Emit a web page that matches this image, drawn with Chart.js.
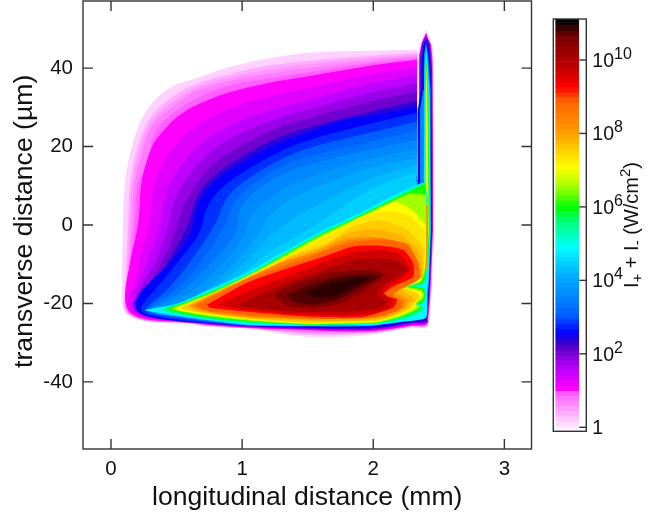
<!DOCTYPE html>
<html>
<head>
<meta charset="utf-8">
<script src="https://cdn.jsdelivr.net/npm/chart.js@4"></script>
<style>
  html, body { margin: 0; background: #fff; }
  canvas { position: absolute; top: 0; }
  #map { left: 0; }
  #bar { left: 540px; }
</style>
</head>
<body>
<canvas id="map" width="540" height="514"></canvas>
<canvas id="bar" width="125" height="514"></canvas>
<script>
// axes
const xRange = [-0.2136, 3.207];
const yRange = [-57.1, 57.1];
const xTicks = [0, 1, 2, 3];
const yTicks = [-40, -20, 0, 20, 40];
const barRange = [-0.109, 11.116];
const barTicks = [0, 2, 4, 6, 8, 10];

// colour bar band edges, log10(I)
const barEdges = [-0.109, 0.03, 0.17, 0.31, 0.45, 0.59, 0.73, 0.87, 1.0, 1.14, 1.28, 1.42, 1.56, 1.7, 1.84, 1.98, 2.12, 2.26, 2.4, 2.54, 2.68, 2.82, 2.96, 3.1, 3.24, 3.38, 3.52, 3.66, 3.8, 3.94, 4.08, 4.22, 4.36, 4.5, 4.64, 4.78, 4.92, 5.06, 5.2, 5.34, 5.48, 5.62, 5.76, 5.9, 6.04, 6.18, 6.32, 6.46, 6.6, 6.74, 6.88, 7.02, 7.16, 7.3, 7.44, 7.58, 7.72, 7.86, 8.0, 8.14, 8.28, 8.42, 8.56, 8.7, 8.84, 8.98, 9.12, 9.26, 9.4, 9.54, 9.68, 9.82, 9.96, 10.1, 10.24, 10.38, 10.52, 10.66, 10.8, 10.94, 11.02, 11.116];

// level -> colour ramp
const rampLevels = [-0.109, 0.96, 1.0, 1.5, 2.0, 2.2, 2.5, 3.0, 3.5, 4.0, 4.5, 4.83, 5.5, 5.93, 6.4, 7.0, 7.5, 8.0, 8.8, 9.2, 9.6, 10.0, 10.5, 10.7, 10.9, 11.0];
const rampColors = ['#fff0ff', '#ff50ff', '#ff00ff', '#c000ff', '#7000d0', '#4000c8', '#0000ff', '#0060ff', '#0088ff', '#00a8ff', '#00d8ff', '#00ffff', '#00ff80', '#00ff00', '#90ff00', '#ffff00', '#ffcc00', '#ff9900', '#ff6600', '#ff0000', '#d00000', '#a80000', '#800000', '#500000', '#200000', '#000000'];

// fan above the wedge: closed contours as x (mm), y (um) pairs
const fan010 = [2.335,44.7, 1.976,44.4, 1.518,43.9, 1.19,42.4, .908,40.3, .656,37.5, .45,35, .275,29.4, .168,21, .107,10.8, .092,.1, .084,-16.5, .084,-20.3, .122,-22.9, .275,-24.6, .58,-25.1, .732,-25.9, 1.06,-26.5, 1.495,-28.5, 1.77,-28.5, 2.029,-27.7, 2.281,-26.2, 2.418,-25.4, 2.418,9, 2.335,10.3];
const fan035 = [2.335,43.9, 1.976,43.1, 1.518,41.9, 1.19,40.6, .908,38.5, .656,36, .473,32.7, .305,27.6, .206,20.2, .145,10.3, .13,.1, .107,-16.5, .099,-19.8, .13,-22.6, .282,-24.5, .58,-25, .732,-25.7, 1.06,-26.4, 1.495,-27.9, 1.77,-27.9, 2.029,-27.4, 2.281,-26, 2.418,-25.3, 2.418,9, 2.335,10.3];
const fan050 = [2.335,43.45, 1.976,42.5, 1.518,41, 1.19,39.5, .908,37.6, .656,35.1, .485,31.7, .312,26.6, .22,19.3, .16,9.9, .145,.1, .115,-16.8, .103,-19.4, .133,-22.55, .282,-24.45, .58,-24.95, .732,-25.6, 1.06,-26.35, 1.495,-27.6, 1.77,-27.65, 2.029,-27.3, 2.281,-25.9, 2.418,-25.2, 2.418,9, 2.335,10.3];
const fan065 = [2.335,43, 1.976,41.9, 1.518,40.1, 1.19,38.5, .908,36.8, .656,34.2, .496,30.7, .32,25.6, .236,18.4, .175,9.5, .16,.1, .122,-17.2, .107,-19, .137,-22.5, .282,-24.4, .58,-24.9, .732,-25.5, 1.06,-26.3, 1.495,-27.3, 1.77,-27.4, 2.029,-27.2, 2.281,-25.8, 2.418,-25.1, 2.418,9, 2.335,10.3];
const fan085 = [2.335,42.5, 1.976,41.2, 1.518,39, 1.19,37.3, .95,36, .72,33.4, .51,29.4, .345,24.2, .27,15.5, .205,10.5, .18,.1, .133,-13, .107,-18.6, .14,-22.4, .282,-24.2, .58,-24.85, .732,-25.45, 1.06,-26.25, 1.495,-27, 1.77,-27.25, 2.029,-27.05, 2.281,-25.75, 2.418,-24.85, 2.418,9, 2.335,10.3];
const fan100 = [2.335,42.1, 1.976,40.6, 1.518,38, 1.289,36.8, 1.037,35, .778,32.4, .526,28.1, .374,23, .313,20, .236,11.5, .206,.1, .145,-9.6, .107,-18.3, .145,-22.3, .282,-24.1, .58,-24.8, .732,-25.4, 1.06,-26.2, 1.495,-26.7, 1.77,-27.1, 2.029,-26.9, 2.281,-25.7, 2.418,-24.6, 2.418,9, 2.335,10.3];
const fan125 = [2.335,40.2, 1.976,38.3, 1.518,35, 1.289,33.4, 1.037,31.2, .778,27.7, .565,23, .42,17, .33,10, .29,.1, .22,-8.6, .18,-15, .133,-19, .165,-22.2, .29,-23.9, .58,-24.7, .732,-25.3, 1.06,-26.1, 1.495,-26.65, 1.77,-27, 2.029,-26.8, 2.281,-25.5, 2.418,-24.5, 2.418,9, 2.335,10.3];
const fan150 = [2.335,38.3, 1.976,36, 1.518,31.9, 1.289,29.9, 1.037,27.3, .778,23, .603,17.9, .465,11.5, .397,5.2, .374,.1, .297,-7.6, .221,-13.9, .16,-19.8, .183,-22.1, .297,-23.6, .58,-24.6, .732,-25.2, 1.06,-26, 1.495,-26.6, 1.77,-26.8, 2.029,-26.7, 2.281,-25.4, 2.418,-24.4, 2.418,9, 2.335,10.3];
const fan175 = [2.335,36.2, 1.976,33.7, 1.518,29.6, 1.289,27.4, 1.037,24.1, .778,19.2, .62,13.8, .507,8, .45,2.6, .44,.1, .355,-8, .26,-14.2, .17,-20, .195,-22.1, .297,-23.5, .58,-24.5, .732,-25.15, 1.06,-25.95, 1.495,-26.5, 1.77,-26.65, 2.029,-26.55, 2.281,-25.2, 2.418,-24.25, 2.418,9, 2.335,10.3];
const fan200 = [2.335,34, 1.976,31.4, 1.518,27.3, 1.289,25, 1.037,21, .778,15.4, .641,9.8, .549,4.4, .511,.1, .412,-8, .297,-14.5, .183,-20, .206,-22.1, .297,-23.4, .58,-24.4, .732,-25.1, 1.06,-25.9, 1.495,-26.4, 1.77,-26.5, 2.029,-26.4, 2.281,-25, 2.418,-24.1, 2.418,9, 2.335,10.3];
const fan230 = [2.335,31.7, 1.976,28.9, 1.518,25, 1.289,22.5, 1.037,18.2, .778,12.3, .656,7.2, .587,.1, .45,-8.4, .313,-15.7, .198,-20.6, .221,-22.3, .313,-23.4, .58,-24.3, .732,-24.9, 1.06,-25.7, 1.495,-26.2, 1.77,-26.4, 2.029,-26.2, 2.281,-24.9, 2.418,-23.6, 2.418,9, 2.335,10.3];
const fan250 = [2.335,30.1, 1.976,27.8, 1.77,26.8, 1.518,23.8, 1.289,21, 1.037,16.6, .778,10.8, .656,4.7, .618,-1.2, .58,-3.7, .45,-9.6, .244,-16.3, .183,-20.8, .244,-22.9, .526,-24.6, .732,-25, 1.06,-25.7, 1.495,-26, 1.77,-26.2, 2.029,-25.9, 2.281,-24.4, 2.418,-22.9, 2.418,9, 2.335,10.3];
const fan275 = [2.335,28.6, 1.976,25.8, 1.518,21.7, 1.289,18.7, 1.037,14.1, .831,9, .725,3.9, .679,-1.7, .526,-8.8, .336,-16.5, .229,-21.1, .282,-22.9, .564,-24.4, .732,-24.9, 1.06,-25.7, 1.495,-25.9, 1.77,-26, 2.029,-25.6, 2.281,-24.1, 2.418,-22.6, 2.418,9, 2.335,10.3];
const fan300 = [2.335,26.3, 1.976,23.5, 1.518,19.7, 1.289,16.6, 1.06,12.1, .892,7.2, .793,.1, .603,-9.4, .412,-17, .267,-21.3, .313,-22.6, .603,-24.1, .732,-24.6, 1.06,-25.6, 1.495,-25.8, 1.77,-25.9, 2.029,-25.5, 2.281,-23.9, 2.418,-22.3, 2.418,9, 2.335,10.3];
const fan325 = [2.335,24, 1.976,21.3, 1.518,17.5, 1.289,14.6, 1.08,10.3, .94,5.5, .87,.1, .68,-9.7, .47,-17.1, .282,-21.45, .33,-22.6, .62,-24, .732,-24.5, 1.06,-25.6, 1.495,-25.75, 1.77,-25.8, 2.029,-25.5, 2.281,-23.75, 2.418,-22.2, 2.418,9, 2.335,10.3];
const fan350 = [2.335,21.7, 1.976,19.2, 1.518,15.4, 1.289,12.6, 1.098,8.5, .984,3.9, .953,-1.7, .755,-10.1, .526,-17.2, .297,-21.6, .351,-22.6, .641,-23.9, .732,-24.4, 1.06,-25.6, 1.495,-25.7, 1.77,-25.7, 2.029,-25.5, 2.281,-23.6, 2.418,-22.1, 2.418,9, 2.335,10.3];
const fan375 = [2.335,19.4, 1.976,16.9, 1.518,12.2, 1.33,9.5, 1.155,5.5, 1.05,1, 1.03,-2, .83,-10.5, .58,-17.8, .305,-21.6, .36,-22.6, .68,-23.85, 1.06,-25.55, 1.495,-25.65, 1.77,-25.65, 2.029,-25.45, 2.281,-23.5, 2.418,-21.85, 2.418,9, 2.335,10.3];
const fan400 = [2.335,17.1, 1.976,14.6, 1.518,9, 1.365,6.4, 1.213,2.6, 1.121,-2.5, .908,-10.9, .641,-18.3, .313,-21.6, .374,-22.6, .717,-23.8, 1.06,-25.5, 1.495,-25.6, 1.77,-25.6, 2.029,-25.4, 2.281,-23.4, 2.418,-21.6, 2.418,9, 2.335,10.3];
const fan420 = [2.335,15.3, 1.976,11.8, 1.56,4.9, 1.4,2, 1.24,-2, 1.12,-6, .95,-11.8, .68,-18.3, .34,-21.6, .39,-22.6, .72,-23.75, 1.06,-25.45, 1.495,-25.55, 1.77,-25.55, 2.029,-25.4, 2.281,-23.25, 2.418,-21.35, 2.418,9, 2.335,10.3];
const fan440 = [2.335,13.6, 1.976,9, 1.594,.8, 1.442,-2.5, 1.213,-6.8, .984,-12.7, .717,-18.3, .374,-21.6, .412,-22.6, .732,-23.7, 1.06,-25.4, 1.495,-25.5, 1.77,-25.5, 2.029,-25.4, 2.281,-23.1, 2.418,-21.1, 2.418,9, 2.335,10.3];
const fanLevels = [0.1, 0.35, 0.5, 0.65, 0.85, 1, 1.25, 1.5, 1.75, 2, 2.3, 2.5, 2.75, 3, 3.25, 3.5, 3.75, 4, 4.2, 4.4];
const fanShapes = [fan010, fan035, fan050, fan065, fan085, fan100, fan125, fan150, fan175, fan200, fan230, fan250, fan275, fan300, fan325, fan350, fan375, fan400, fan420, fan440];

// thin vertical spike at the end of the cell
const spike010 = [2.342,-20, 2.342,37, 2.346,43.4, 2.357,45.9, 2.384,48.2, 2.403,49.8, 2.426,48.2, 2.441,46.7, 2.456,44.7, 2.464,14.9, 2.464,-1.2, 2.449,-13.9, 2.441,-19, 2.426,-24.6];
const spike100 = [2.349,-20, 2.349,37, 2.353,43.4, 2.372,46.7, 2.403,49, 2.422,47.2, 2.441,45.9, 2.452,42.1, 2.456,14.9, 2.456,-1.2, 2.441,-13.9, 2.433,-19, 2.418,-24.6];
const spike200 = [2.353,-20, 2.353,30.7, 2.353,42.1, 2.372,46.2, 2.403,48.2, 2.433,46.2, 2.449,39.6, 2.451,14.9, 2.451,-1.2, 2.433,-13.9, 2.426,-19, 2.41,-24.1];
const spike250 = [2.335,11.5, 2.338,29, 2.365,34.5, 2.372,42.1, 2.38,45.7, 2.403,47.7, 2.426,44.7, 2.441,37, 2.445,14.9, 2.445,-1.2, 2.43,-13.9, 2.418,-19, 2.403,-23.6];
const spike350 = [2.357,11, 2.357,29.4, 2.38,34.5, 2.387,43.4, 2.403,46.7, 2.422,42.1, 2.437,34.5, 2.44,14.9, 2.441,-1.2, 2.426,-13.9, 2.414,-19, 2.395,-23.6];
const spike480 = [2.387,9, 2.39,39.6, 2.403,45.7, 2.414,42.1, 2.432,31.9, 2.433,14.9, 2.437,-1.2, 2.422,-13.9, 2.403,-19, 2.395,-23.1];
const spike600 = [2.395,9, 2.395,37, 2.403,43.1, 2.41,39.6, 2.422,31.9, 2.426,14.9, 2.43,-1.2, 2.414,-13.9, 2.403,-18];
const spike700 = [2.4,9, 2.4,34.5, 2.405,40.3, 2.41,35.7, 2.416,24.3, 2.418,14.9, 2.422,-1.2, 2.41,-12.7];
const spikeLevels = [0.1, 1, 2, 2.5, 3.5, 4.8, 6, 7];
const spikeShapes = [spike010, spike100, spike200, spike250, spike350, spike480, spike600, spike700];

// bright wedge below the fan
const wedge480 = [2.372,10.8, 2.166,7.7, 1.976,4.4, 1.785,1.3, 1.609,-1.5, 1.442,-4.5, 1.213,-8.8, 1.037,-12.2, .87,-14.7, .732,-16.7, .564,-19.3, .45,-20.6, .282,-21.5, .259,-21.8, .412,-22.6, .732,-24.2, 1.06,-25.4, 1.495,-25.7, 1.77,-25.5, 2.029,-25.4, 2.243,-24.6, 2.403,-23.6, 2.41,-16.5, 2.407,9];
const wedge550 = [2.387,10.8, 2.166,7.2, 1.976,3.9, 1.785,.8, 1.609,-2, 1.442,-5, 1.213,-9.4, 1.037,-12.7, .87,-15.2, .732,-17.2, .564,-19.5, .45,-20.8, .397,-21.6, .45,-22.3, .732,-23.9, 1.06,-25, 1.495,-25.5, 1.77,-25.4, 2.029,-25.1, 2.243,-23.9, 2.357,-22.3, 2.391,-20.9, 2.304,-20.7, 2.387,-19.8, 2.403,-17.8, 2.387,-16, 2.265,-15.3, 2.387,-15, 2.407,-11.4, 2.403,9];
const wedge600 = [2.395,10.5, 2.166,6.7, 1.976,3.6, 1.785,.6, 1.609,-2.2, 1.442,-5.3, 1.213,-9.6, 1.037,-12.9, .87,-15.5, .732,-17.5, .564,-19.8, .488,-20.6, .435,-21.3, .488,-22.1, .732,-23.5, 1.06,-24.6, 1.495,-25.4, 1.77,-25.2, 2.029,-25, 2.204,-23.6, 2.342,-21.8, 2.372,-20.8, 2.296,-20.6, 2.38,-19.5, 2.395,-17.8, 2.38,-16.2, 2.258,-15.5, 2.38,-14.7, 2.403,-11.4, 2.403,9];
const wedge650 = [2.403,7.7, 2.281,8, 2.166,6.4, 1.976,3.4, 1.785,.3, 1.609,-2.5, 1.442,-5.5, 1.213,-9.9, 1.037,-13, .87,-15.7, .732,-17.8, .564,-20, .465,-21.3, .526,-22, .732,-23.2, 1.06,-24.4, 1.495,-25.3, 1.77,-25.1, 2.029,-24.9, 2.204,-23.4, 2.326,-21.6, 2.357,-20.7, 2.296,-20.2, 2.372,-19, 2.387,-17.8, 2.365,-16.5, 2.25,-15.7, 2.365,-14.4, 2.399,-10.9, 2.403,6.4];
const wedge700 = [2.403,0, 2.296,3.8, 2.166,5.9, 1.976,2.9, 1.785,-.2, 1.609,-3, 1.442,-6, 1.213,-10.4, 1.037,-13.2, .87,-16.1, .732,-18, .603,-19.8, .496,-21.2, .564,-22, .732,-22.9, 1.06,-24.1, 1.495,-25.1, 1.77,-24.9, 2.029,-24.6, 2.204,-23, 2.296,-21.6, 2.334,-20.4, 2.296,-19.8, 2.357,-18.5, 2.38,-17.5, 2.349,-16.7, 2.243,-16, 2.357,-14.2, 2.395,-10.1];
const wedge725 = [2.395,-1.5, 2.265,2.6, 2.1,3.5, 1.9,2, 1.72,-1.5, 1.5,-5.2, 1.25,-9.5, 1.05,-13, .87,-16.1, .732,-18.1, .603,-20, .515,-21.15, .58,-21.9, .732,-22.7, 1.06,-24, 1.495,-24.95, 1.77,-24.75, 2.029,-24.45, 2.195,-22.9, 2.285,-21.5, 2.33,-20, 2.36,-18.3, 2.3,-16.7, 2.23,-16, 2.34,-14, 2.39,-9.8];
const wedge750 = [2.38,-5.5, 2.258,-1.2, 2.052,1.3, 1.846,-.4, 1.648,-4.5, 1.388,-7.6, 1.137,-12.2, .87,-16.2, .732,-18.2, .603,-20.1, .534,-21.1, .603,-21.8, .732,-22.5, 1.06,-23.9, 1.495,-24.8, 1.77,-24.6, 2.029,-24.3, 2.189,-22.8, 2.273,-21.4, 2.319,-19.5, 2.349,-18, 2.258,-16.5, 2.22,-16.1, 2.38,-12.2];
const wedge775 = [2.36,-7, 2.22,-2.8, 2.02,-1, 1.82,-2, 1.6,-5.7, 1.34,-8.6, 1.09,-12.9, .87,-16.6, .732,-18.9, .58,-20.5, .63,-21.7, .732,-22.3, 1.05,-23.7, 1.52,-24.45, 1.77,-24.45, 2.04,-24, 2.2,-22.3, 2.27,-20.3, 2.31,-18.8, 2.22,-16.6, 2.3,-15, 2.375,-12.7];
const wedge800 = [2.342,-8.9, 2.181,-4.3, 1.976,-3, 1.8,-3.3, 1.541,-6.9, 1.289,-9.6, 1.037,-13.5, .603,-20.6, .732,-22.1, 1.037,-23.5, 1.541,-24, 2.052,-23.6, 2.243,-21.1, 2.265,-19, 2.181,-17.3, 2.204,-16.5, 2.372,-13.2];
const wedge840 = [.62,-20.6, 1.037,-13.6, 1.34,-9.2, 1.58,-6.9, 1.82,-3.8, 2.03,-3.3, 2.22,-4.6, 2.34,-9.2, 2.355,-13.5, 2.2,-16.5, 2.16,-17.7, 2.24,-19.3, 2.215,-21.5, 2.02,-23.6, 1.541,-24, 1.037,-23.2, .732,-22];
const wedge880 = [.641,-20.6, 1.037,-13.7, 1.388,-9.6, 1.617,-6.8, 1.846,-4.3, 2.09,-3.7, 2.265,-5, 2.342,-9.6, 2.342,-13.9, 2.189,-16.5, 2.143,-18, 2.22,-19.5, 2.189,-21.8, 1.976,-23.7, 1.541,-23.9, 1.037,-22.9, .732,-21.8];
const wedge920 = [.732,-20.3, 1.037,-14.7, 1.388,-10.6, 1.617,-8.1, 1.846,-5.5, 2.052,-5.3, 2.227,-6.3, 2.304,-9.6, 2.304,-13.2, 2.151,-15.7, 2.075,-17.8, 2.181,-19, 2.151,-21.1, 1.922,-23.4, 1.541,-23.4, 1.037,-22.1, .755,-21.1];
const wedge960 = [.808,-20.3, 1.137,-15.7, 1.419,-12.2, 1.67,-8.8, 1.877,-6.8, 2.075,-6.3, 2.204,-7.6, 2.281,-11.4, 2.204,-13.9, 2.075,-17, 2.151,-19.5, 2.105,-21.6, 1.899,-22.9, 1.541,-22.9, 1.037,-21.6];
const wedge1000 = [.954,-20.6, 1.289,-15.5, 1.67,-10.9, 1.877,-8.8, 2.151,-8.8, 2.258,-11.4, 2.105,-14.7, 2.029,-17.8, 2.105,-19.5, 2.052,-21.1, 1.8,-22.1, 1.42,-22.1, 1.083,-21.1];
const wedge1050 = [1.236,-17.8, 1.4,-15, 1.7,-12, 1.976,-11.4, 2.09,-12.7, 1.93,-16.8, 1.75,-20, 1.53,-21.2, 1.35,-20.6];
const wedge1070 = [1.342,-17.8, 1.495,-15.5, 1.724,-13.2, 1.976,-12.4, 2.044,-13.2, 1.899,-16, 1.724,-19, 1.541,-20.3, 1.388,-19.5];
const wedge1085 = [1.48,-17.2, 1.648,-14.9, 1.846,-13.4, 1.976,-13.4, 1.87,-15.5, 1.695,-18.3, 1.541,-18.3];
const wedgeLevels = [4.8, 5.5, 6, 6.5, 7, 7.25, 7.5, 7.75, 8, 8.4, 8.8, 9.2, 9.6, 10, 10.5, 10.7, 10.85];
const wedgeShapes = [wedge480, wedge550, wedge600, wedge650, wedge700, wedge725, wedge750, wedge775, wedge800, wedge840, wedge880, wedge920, wedge960, wedge1000, wedge1050, wedge1070, wedge1085];

// orange core line of the spike, on top of the wedge
const spikeCore = [2.403,5.2, 2.418,5.2, 2.418,-11.4, 2.403,-11.4];
const spikeCoreLevel = 8;

const inkColor = '#333333';
const textColor = '#111111';
const fontFamily = '"Liberation Sans", Arial, sans-serif';

function hexToRgb(hex) {
  return [1, 3, 5].map(i => parseInt(hex.slice(i, i + 2), 16));
}

function colorFor(level) {
  let i = 0;
  while (i < rampLevels.length - 2 && level > rampLevels[i + 1]) i++;
  const t = Math.min(1, Math.max(0, (level - rampLevels[i]) / (rampLevels[i + 1] - rampLevels[i])));
  const a = hexToRgb(rampColors[i]);
  const b = hexToRgb(rampColors[i + 1]);
  const c = a.map((v, k) => Math.round(v + (b[k] - v) * t));
  return `rgb(${c[0]},${c[1]},${c[2]})`;
}

function toPoints(flat) {
  const pts = [];
  for (let i = 0; i < flat.length; i += 2) pts.push({ x: flat[i], y: flat[i + 1] });
  pts.push({ x: flat[0], y: flat[1] });
  return pts;
}

function bandDatasets(shapes, levels, tension) {
  return shapes.map((shape, i) => ({
    data: toPoints(shape),
    showLine: true,
    fill: 'shape',
    backgroundColor: colorFor(levels[i]),
    borderWidth: 0,
    pointRadius: 0,
    tension
  }));
}

// Chart.js paints the first dataset last, so the list goes top band first
const mapDatasets = [
  ...bandDatasets(fanShapes, fanLevels, 0.35),
  ...bandDatasets(spikeShapes, spikeLevels, 0),
  ...bandDatasets(wedgeShapes, wedgeLevels, 0.2),
  ...bandDatasets([spikeCore], [spikeCoreLevel], 0)
].reverse();

// frame and inward tick marks
const mapFrame = {
  id: 'mapFrame',
  afterDatasetsDraw(chart) {
    const { ctx, chartArea: a, scales } = chart;
    ctx.save();
    ctx.strokeStyle = inkColor;
    ctx.lineWidth = 1.4;
    ctx.strokeRect(a.left, a.top, a.right - a.left, a.bottom - a.top);
    ctx.beginPath();
    xTicks.forEach(v => {
      const px = scales.x.getPixelForValue(v);
      ctx.moveTo(px, a.top); ctx.lineTo(px, a.top + 10);
      ctx.moveTo(px, a.bottom); ctx.lineTo(px, a.bottom - 10);
    });
    yTicks.forEach(v => {
      const py = scales.y.getPixelForValue(v);
      ctx.moveTo(a.left, py); ctx.lineTo(a.left + 10, py);
      ctx.moveTo(a.right, py); ctx.lineTo(a.right - 10, py);
    });
    ctx.stroke();
    ctx.restore();
  }
};

new Chart(document.getElementById('map'), {
  type: 'scatter',
  data: { datasets: mapDatasets },
  plugins: [mapFrame],
  options: {
    responsive: false,
    animation: false,
    events: [],
    layout: { autoPadding: false, padding: { top: 1, right: 8.5, left: 0, bottom: 0 } },
    plugins: { legend: { display: false }, tooltip: { enabled: false } },
    scales: {
      x: {
        type: 'linear',
        min: xRange[0],
        max: xRange[1],
        afterBuildTicks: s => { s.ticks = xTicks.map(value => ({ value })); },
        afterFit: s => { s.height = 65; s.paddingLeft = 0; s.paddingRight = 0; },
        grid: { display: false, drawTicks: false },
        border: { display: false },
        ticks: { color: textColor, font: { size: 20.5, family: fontFamily }, padding: 8, maxRotation: 0, callback: v => String(v) },
        title: { display: true, text: 'longitudinal distance (mm)', color: textColor, font: { size: 26.6, family: fontFamily }, padding: 0 }
      },
      y: {
        type: 'linear',
        min: yRange[0],
        max: yRange[1],
        afterBuildTicks: s => { s.ticks = yTicks.map(value => ({ value })); },
        afterFit: s => { s.width = 83; s.paddingTop = 0; s.paddingBottom = 0; },
        grid: { display: false, drawTicks: false },
        border: { display: false },
        ticks: { color: textColor, font: { size: 20.5, family: fontFamily }, padding: 10, callback: v => String(v) },
        title: { display: true, text: ' transverse distance (\u00b5m)', color: textColor, font: { size: 26.6, family: fontFamily }, padding: { top: 9, bottom: 0 } }
      }
    }
  }
});

// colour bar
const barData = barEdges.slice(0, -1).map((lo, i) => ({ x: 0.345, y: [10 ** lo, 10 ** barEdges[i + 1]] }));
const barColors = barEdges.slice(0, -1).map(lo => colorFor(lo));

function drawRuns(ctx, x, y, runs) {
  let pen = x;
  runs.forEach(r => {
    ctx.font = `${r.size}px ${fontFamily}`;
    ctx.fillText(r.text, pen, y + r.dy);
    pen += ctx.measureText(r.text).width;
  });
}

const barDecor = {
  id: 'barDecor',
  afterDatasetsDraw(chart) {
    const { ctx, chartArea: a, scales } = chart;
    ctx.save();
    ctx.strokeStyle = inkColor;
    ctx.lineWidth = 1.4;
    ctx.strokeRect(a.left, a.top, a.right - a.left, a.bottom - a.top);
    ctx.fillStyle = textColor;
    ctx.textBaseline = 'alphabetic';
    barTicks.forEach(e => {
      const py = scales.y.getPixelForValue(10 ** e);
      ctx.beginPath();
      ctx.moveTo(a.right, py); ctx.lineTo(a.right - 7, py);
      ctx.stroke();
      if (e === 0) drawRuns(ctx, a.right + 6, py + 7, [{ text: '1', size: 19.5, dy: 0 }]);
      else drawRuns(ctx, a.right + 6, py + 7, [{ text: '10', size: 19.5, dy: 0 }, { text: String(e), size: 16, dy: -8 }]);
    });
    // rotated title with sub and superscripts
    ctx.translate(98, 288);
    ctx.rotate(-Math.PI / 2);
    drawRuns(ctx, 0, 0, [
      { text: 'I', size: 20, dy: 0 },
      { text: '+', size: 15, dy: 4 },
      { text: ' + I', size: 20, dy: 0 },
      { text: '-', size: 15, dy: 4 },
      { text: ' (W/cm', size: 20, dy: 0 },
      { text: '2', size: 15, dy: -8 },
      { text: ')', size: 20, dy: 0 }
    ]);
    ctx.restore();
  }
};

new Chart(document.getElementById('bar'), {
  type: 'bar',
  data: { datasets: [{ data: barData, backgroundColor: barColors, borderWidth: 0, barThickness: 23 }] },
  plugins: [barDecor],
  options: {
    responsive: false,
    animation: false,
    events: [],
    layout: { autoPadding: false, padding: { left: 13.3, right: 78.7, top: 19, bottom: 82.7 } },
    plugins: { legend: { display: false }, tooltip: { enabled: false } },
    scales: {
      x: { type: 'linear', min: 0, max: 1, display: false },
      y: { type: 'logarithmic', min: 10 ** barRange[0], max: 10 ** barRange[1], display: false }
    }
  }
});
</script>
</body>
</html>
